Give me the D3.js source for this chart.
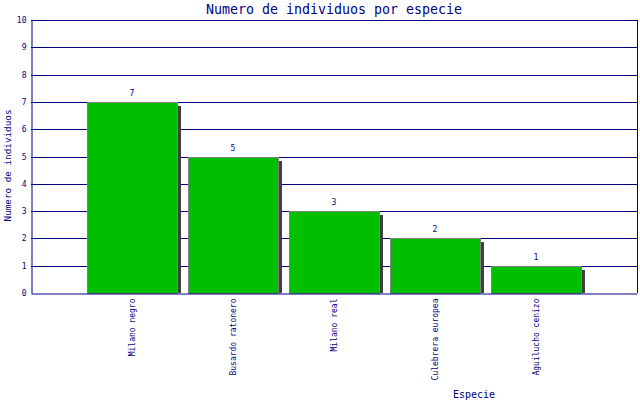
<!DOCTYPE html>
<html>
<head>
<meta charset="utf-8">
<script src="https://cdn.jsdelivr.net/npm/d3@7"></script>
<style>
  body { margin: 0; background: #fff; }
  text { font-family: "DejaVu Sans Mono", "Liberation Mono", monospace; fill: #000080; }
</style>
</head>
<body>
<svg width="640" height="400"></svg>
<script>
const especies = ['Milano negro', 'Busardo ratonero', 'Milano real', 'Culebrera europea', 'Aguilucho cenizo']
const individuos = [7, 5, 3, 2, 1]
const yTicks = [0, 1, 2, 3, 4, 5, 6, 7, 8, 9, 10]

const width = 640
const height = 400
const margin = { top: 20, right: 3, bottom: 107, left: 31 }
const navy = '#000080'
const barWidth = 90
const shadow = 4

const svg = d3.select('svg')

const xScale = d3
  .scalePoint()
  .domain(especies)
  .range([margin.left, width - margin.right])
  .padding(1)

const yScale = d3
  .scaleLinear()
  .domain([0, 10])
  .range([height - margin.bottom, margin.top])

// grid lines
svg.append('g')
  .selectAll('line')
  .data(yTicks.slice(1))
  .join('line')
  .attr('x1', margin.left)
  .attr('x2', width - margin.right)
  .attr('y1', d => Math.round(yScale(d)) + 0.5)
  .attr('y2', d => Math.round(yScale(d)) + 0.5)
  .attr('stroke', navy)

// right border
svg.append('line')
  .attr('x1', width - margin.right + 0.5)
  .attr('x2', width - margin.right + 0.5)
  .attr('y1', margin.top)
  .attr('y2', height - margin.bottom)
  .attr('stroke', navy)

// shadows
svg.append('g')
  .selectAll('rect')
  .data(individuos)
  .join('rect')
  .attr('x', (d, i) => Math.round(xScale(especies[i]) - barWidth / 2) + shadow)
  .attr('y', d => Math.round(yScale(d)) + shadow)
  .attr('width', barWidth)
  .attr('height', d => Math.round(yScale(0)) - Math.round(yScale(d)) - shadow)
  .attr('fill', '#404040')

// bars
svg.append('g')
  .selectAll('rect')
  .data(individuos)
  .join('rect')
  .attr('x', (d, i) => Math.round(xScale(especies[i]) - barWidth / 2) + 0.5)
  .attr('y', d => Math.round(yScale(d)) + 0.5)
  .attr('width', barWidth)
  .attr('height', d => Math.round(yScale(0)) - Math.round(yScale(d)))
  .attr('fill', '#00bf00')
  .attr('stroke', '#808080')

// value labels
svg.append('g')
  .selectAll('text')
  .data(individuos)
  .join('text')
  .attr('x', (d, i) => xScale(especies[i]))
  .attr('y', d => yScale(d) - 6)
  .attr('text-anchor', 'middle')
  .attr('font-size', 8)
  .text(d => d)

// y axis
const yAxis = d3.axisLeft(yScale).tickValues(yTicks).tickSize(0).tickPadding(5)
const gy = svg.append('g')
  .attr('transform', `translate(${margin.left + 0.5},0)`)
  .call(yAxis)
gy.select('.domain').attr('stroke', navy)
gy.selectAll('text').attr('font-size', 8).attr('font-family', null)

// x axis
const xAxis = d3.axisBottom(xScale).tickSize(0).tickPadding(0)
const gx = svg.append('g')
  .attr('transform', `translate(0,${Math.round(yScale(0)) + 0.5})`)
  .call(xAxis)
gx.select('.domain').attr('stroke', navy)
gx.selectAll('text')
  .attr('font-size', 8)
  .attr('font-family', null)
  .attr('transform', 'rotate(-90)')
  .attr('text-anchor', 'end')
  .attr('x', -5)
  .attr('y', 0)
  .attr('dy', '0.35em')

// title
svg.append('text')
  .attr('x', 334)
  .attr('y', 14)
  .attr('text-anchor', 'middle')
  .attr('font-size', 13.3)
  .text('Numero de individuos por especie')

// axis titles
svg.append('text')
  .attr('transform', `translate(11,${(margin.top + height - margin.bottom) / 2 + 9}) rotate(-90)`)
  .attr('text-anchor', 'middle')
  .attr('font-size', 9.3)
  .text('Numero de individuos')

svg.append('text')
  .attr('x', 474)
  .attr('y', 398)
  .attr('text-anchor', 'middle')
  .attr('font-size', 10)
  .text('Especie')
</script>
</body>
</html>
